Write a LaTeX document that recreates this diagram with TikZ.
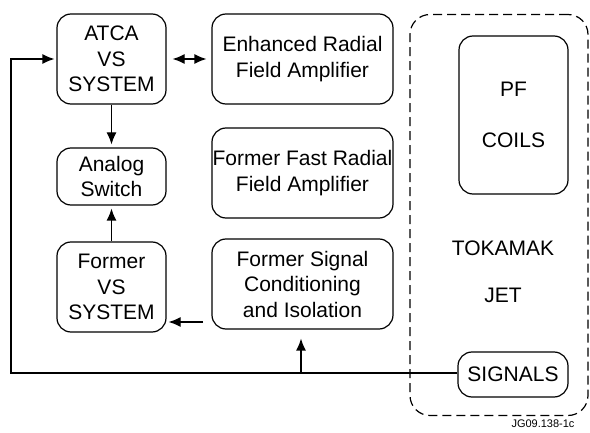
\documentclass[tikz,border=0pt]{standalone}
\usepackage{fontspec}
\setmainfont{Liberation Sans}
\usetikzlibrary{arrows.meta,calc}
\begin{document}
\begin{tikzpicture}[x=1pt,y=-1pt,
  blk/.style={draw,line width=1.2pt,rounded corners=14pt,align=center,inner sep=0pt,font=\fontsize{21}{25.5}\selectfont},
  lbl/.style={align=center,inner sep=0pt,font=\fontsize{21}{25.5}\selectfont},
  conn/.style={line width=1.2pt},
  arr/.style={conn,-{Latex[length=12pt,width=10pt]}},
  darr/.style={conn,{Latex[length=12pt,width=10pt]}-{Latex[length=12pt,width=10pt]}}]
\useasboundingbox (0,0) rectangle (590,433);
% nodes
\node[blk,minimum width=109pt,minimum height=90pt] (atca) at (111.5,59) {ATCA\\VS\\SYSTEM};
\node[blk,minimum width=109pt,minimum height=57pt] (sw) at (111.5,176.5) {Analog\\Switch};
\node[blk,minimum width=109pt,minimum height=90pt] (fvs) at (111.5,287) {Former\\VS\\SYSTEM};
\node[blk,minimum width=181pt,minimum height=90pt] (era) at (302.5,59) {Enhanced Radial\\Field Amplifier};
\node[blk,minimum width=181pt,minimum height=90pt] (ffra) at (302.5,173) {Former Fast Radial\\Field Amplifier};
\node[blk,minimum width=181pt,minimum height=90pt] (fsc) at (302.5,284) {Former Signal\\Conditioning\\and Isolation};
\node[draw,line width=1.2pt,dash pattern=on 9pt off 5pt,rounded corners=20pt,minimum width=178pt,minimum height=401pt,inner sep=0pt] (tok) at (499,215) {};
\node[blk,minimum width=109pt,minimum height=158pt] (pf) at (513.5,115) {};
\node[lbl] (pft) at (513.5,89) {PF};
\node[lbl] (coils) at (513.5,140) {COILS};
\node[lbl] (tokt) at (503,248) {TOKAMAK};
\node[lbl] (jet) at (503,295) {JET};
\node[blk,minimum width=110pt,minimum height=45pt] (sig) at (513,374.5) {SIGNALS};
\node[inner sep=0pt,font=\fontsize{11}{13}\selectfont] (code) at (543,424) {JG09.138-1c};
% connectors
\coordinate (bl) at (11,373);
\coordinate (tl) at (11,59);
\coordinate (jn) at (301,373);
\coordinate (fa) at (203,322);
\draw[arr] (sig.west |- bl) -- (bl) -- (tl) -- ($(atca.west)+(-2,0)$);
\draw[arr] (jn) -- ($(jn |- fsc.south)+(0,9)$);
\draw[darr] ($(atca.east)+(6,0)$) -- ($(era.west)+(-5,0)$);
\draw[arr] (atca.south) -- ($(sw.north)+(0,-3)$);
\draw[arr] (fvs.north) -- ($(sw.south)+(0,3)$);
\draw[arr] (fa) -- ($(fvs.east |- fa)+(2,0)$);
\end{tikzpicture}
\end{document}
